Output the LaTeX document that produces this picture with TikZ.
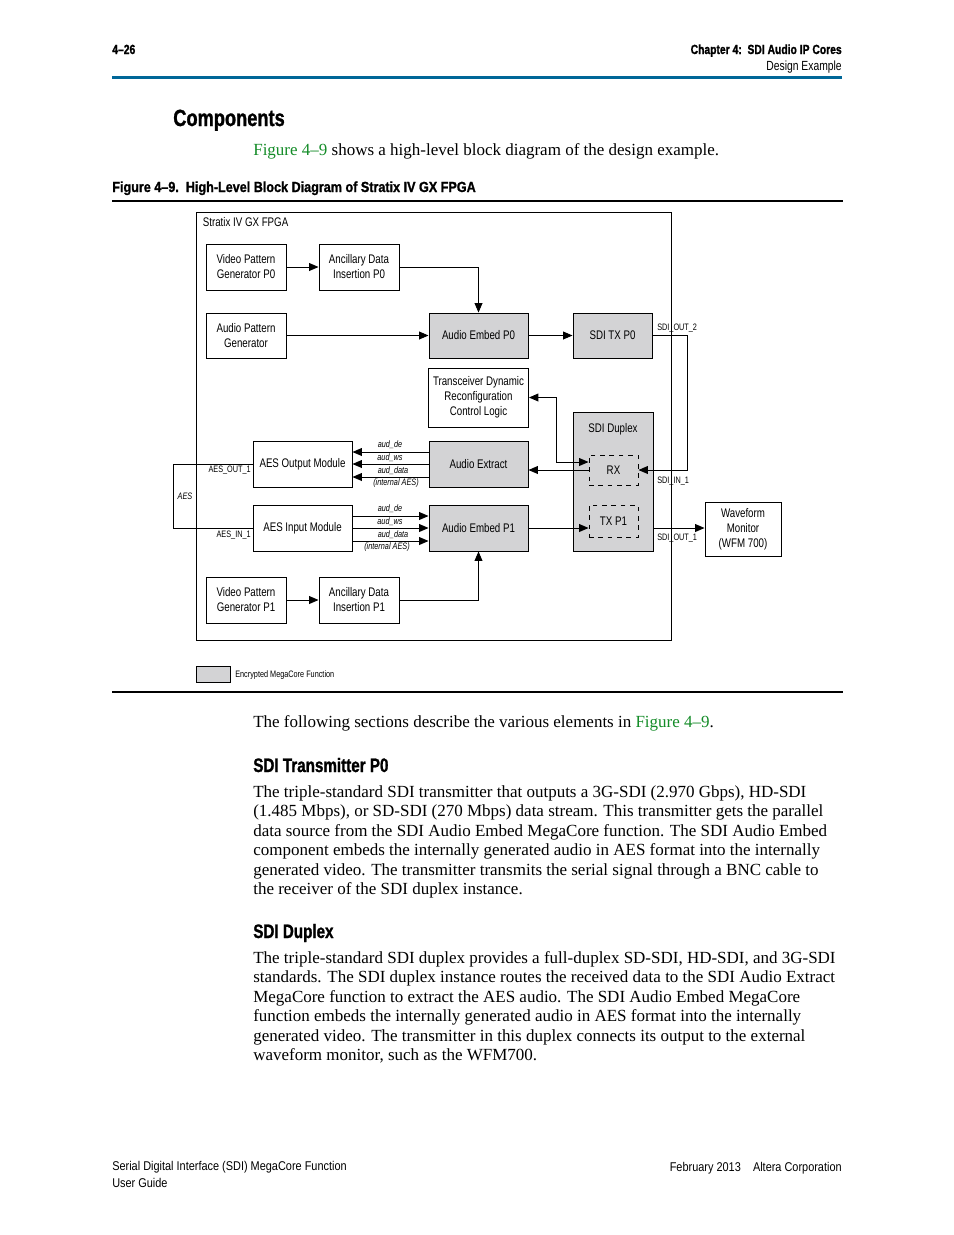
\documentclass[tikz,border=0pt]{standalone}
\usepackage{fontspec}
\setmainfont{Liberation Serif}
\newfontfamily\narrowsf[FakeStretch=0.78, BoldFeatures={FakeBold=1.2}]{Liberation Sans}
\newfontfamily\widesf[FakeStretch=0.86, BoldFeatures={FakeBold=1.2}]{Liberation Sans}
\usetikzlibrary{arrows.meta}
\usetikzlibrary{calc}
\usetikzlibrary{positioning}
\definecolor{linkgreen}{RGB}{20,140,40}
\definecolor{ruleblue}{RGB}{0,103,152}
\definecolor{coregray}{RGB}{211,211,213}
\newcommand{\px}{0.6415pt}
\newcommand{\bodyfont}{\rmfamily\fontsize{10.9}{12.5}\selectfont}
\newcommand{\headfont}{\narrowsf\bfseries\fontsize{8.5}{10}\selectfont}
\newcommand{\footfont}{\widesf\fontsize{8.15}{10.3}\selectfont}
\tikzstyle{blocknode} = [draw, rectangle, line width=0.6pt, align=center, inner sep=0pt, font=\narrowsf\fontsize{8}{9.6}\selectfont]
\tikzstyle{corenode} = [blocknode, fill=coregray]
\tikzstyle{dashnode} = [blocknode, dashed]
\tikzstyle{sigline} = [line width=0.6pt]
\tikzstyle{sigarrow} = [sigline, -{Triangle[length=6pt,width=5pt]}]
\tikzstyle{sigboth} = [sigline, {Triangle[length=6pt,width=5pt]}-{Triangle[length=6pt,width=5pt]}]
\tikzstyle{siglabel} = [inner sep=0pt, font=\narrowsf\fontsize{6}{7}\selectfont]
\tikzstyle{buslabel} = [siglabel, font=\narrowsf\itshape\fontsize{6}{7}\selectfont]
\tikzstyle{pagetext} = [inner sep=0pt, anchor=base west, align=left]

\begin{document}
\begin{tikzpicture}[x=\px, y=-\px]
\useasboundingbox[fill=white] (0,0) rectangle (954,1235);

% page header
\node[pagetext, font=\headfont] (page_num) at (112,54) {4–26};
\node[pagetext, anchor=base east, font=\headfont] (chapter) at (842,54) {Chapter 4:\ \ SDI Audio IP Cores};
\node[pagetext, anchor=base east, font=\narrowsf\fontsize{8.5}{10}\selectfont] (section) at (842,70) {Design Example};
\draw[ruleblue, line width=1.6pt] (page_num.base west |- 0,77.5) -- (chapter.base east |- 0,77.5);

\node[pagetext, font=\narrowsf\bfseries\fontsize{15}{18}\selectfont] (components) at (173,126) {Components};
\node[pagetext, font=\bodyfont] (intro) at (253,155) {\textcolor{linkgreen}{Figure 4–9} shows a high-level block diagram of the design example.};
\node[pagetext, font=\widesf\bfseries\fontsize{9.4}{11}\selectfont] (caption) at (112,192) {Figure 4–9.\ \ High-Level Block Diagram of Stratix IV GX FPGA};
\draw[line width=0.9pt] (112,201) -- (843,201);

% the FPGA and its blocks
\node[blocknode, minimum width=475*\px, minimum height=428*\px] (fpga) at (433.5,426) {};
\node[pagetext, font=\narrowsf\fontsize{8}{9.6}\selectfont] (fpga_title) at ($(fpga.north west)+(7,15)$) {Stratix IV GX FPGA};

\node[blocknode, minimum width=80*\px, minimum height=46*\px] (vpg_zero) at (246,267) {Video Pattern\\Generator P0};
\node[blocknode, minimum width=80*\px, minimum height=46*\px] (adi_zero) at ($(vpg_zero)+(113,0)$) {Ancillary Data\\Insertion P0};
\node[blocknode, minimum width=80*\px, minimum height=45*\px] (apg) at ($(vpg_zero)+(0,68.5)$) {Audio Pattern\\Generator};
\node[corenode, minimum width=99*\px, minimum height=45*\px] (ae_zero) at (478.5,335.5) {Audio Embed P0};
\node[corenode, minimum width=79*\px, minimum height=45*\px] (tx_zero) at ($(ae_zero)+(134,0)$) {SDI TX P0};
\node[blocknode, minimum width=100*\px, minimum height=59*\px] (tdrcl) at ($(ae_zero)+(0,62)$) {Transceiver Dynamic\\Reconfiguration\\Control Logic};

\node[corenode, minimum width=80*\px, minimum height=139*\px] (duplex) at (613,481.5) {};
\node[inner sep=0pt, font=\narrowsf\fontsize{8}{9.6}\selectfont] (duplex_title) at ($(duplex.north)+(0,18)$) {SDI Duplex};
\node[dashnode, minimum width=49*\px, minimum height=30*\px] (rx) at ($(duplex)+(0.5,-11.5)$) {RX};
\node[dashnode, minimum width=49*\px, minimum height=32*\px] (txp_one) at ($(duplex)+(0.5,39.5)$) {TX P1};

\node[corenode, minimum width=99*\px, minimum height=46*\px] (aex) at (478.5,464) {Audio Extract};
\node[blocknode, minimum width=99*\px, minimum height=46*\px] (aes_out) at ($(aex)+(-176,0)$) {AES Output Module};
\node[blocknode, minimum width=99*\px, minimum height=46*\px] (aes_in) at ($(aes_out)+(0,64)$) {AES Input Module};
\node[corenode, minimum width=99*\px, minimum height=46*\px] (ae_one) at ($(aex)+(0,64)$) {Audio Embed P1};

\node[blocknode, minimum width=80*\px, minimum height=46*\px] (vpg_one) at (246,600) {Video Pattern\\Generator P1};
\node[blocknode, minimum width=80*\px, minimum height=46*\px] (adi_one) at ($(vpg_one)+(113,0)$) {Ancillary Data\\Insertion P1};
\node[blocknode, minimum width=76*\px, minimum height=54*\px] (wfm) at (743,529) {Waveform\\Monitor\\(WFM 700)};

% connections, P0 side
\draw[sigarrow] (vpg_zero) -- (adi_zero);
\draw[sigarrow] (adi_zero.east) -| (ae_zero.north);
\draw[sigarrow] (apg) -- (ae_zero);
\draw[sigarrow] (ae_zero) -- (tx_zero);
\draw[sigarrow] (tx_zero.east) -- ++(35,0) |- (rx.east);
\draw[sigboth] (tdrcl.east) -- ++(27,0) |- ($(rx.west)+(0,-8)$);
\draw[sigarrow] (rx.west) -- (rx.west -| aex.east);

% AES buses
\draw[sigarrow] ($(aex.west)+(0,-12)$) -- ($(aes_out.east)+(0,-12)$);
\draw[sigarrow] (aex.west) -- (aes_out.east);
\draw[sigarrow] ($(aex.west)+(0,13)$) -- ($(aes_out.east)+(0,13)$);
\node[buslabel] (out_de) at (390,445) {aud\_de};
\node[buslabel] (out_ws) at (390,458) {aud\_ws};
\node[buslabel] (out_data) at (393,471) {aud\_data};
\node[buslabel] (out_int) at (396,483) {(internal AES)};

\draw[sigarrow] ($(aes_in.east)+(0,-12)$) -- ($(ae_one.west)+(0,-12)$);
\draw[sigarrow] (aes_in.east) -- (ae_one.west);
\draw[sigarrow] ($(aes_in.east)+(0,13)$) -- ($(ae_one.west)+(0,13)$);
\node[buslabel] (in_de) at (390,509) {aud\_de};
\node[buslabel] (in_ws) at (390,522) {aud\_ws};
\node[buslabel] (in_data) at (393,535) {aud\_data};
\node[buslabel] (in_int) at (387,547) {(internal AES)};

\draw[sigline] (aes_out.west) -- ++(-79,0) |- (aes_in.west);
\node[siglabel, anchor=east] (lbl_aes_out) at (251,470) {AES\_OUT\_1};
\node[siglabel, anchor=east] (lbl_aes_in) at (251,535) {AES\_IN\_1};
\node[buslabel] (lbl_aes) at (185,496) {AES};

% connections, P1 side
\draw[sigarrow] (ae_one.east) -- (ae_one.east -| txp_one.west);
\draw[sigarrow] (ae_one.east -| duplex.east) -- (ae_one.east -| wfm.west);
\draw[sigarrow] (vpg_one) -- (adi_one);
\draw[sigarrow] (adi_one.east) -| (ae_one.south);

\node[siglabel, anchor=west] (lbl_out_two) at (657,328) {SDI\_OUT\_2};
\node[siglabel, anchor=west] (lbl_in_one) at (657,481) {SDI\_IN\_1};
\node[siglabel, anchor=west] (lbl_out_one) at (657,538) {SDI\_OUT\_1};

% legend
\node[corenode, minimum width=34*\px, minimum height=16*\px] (legend_box) at (213,674) {};
\node[siglabel, anchor=west, font=\narrowsf\fontsize{6}{7}\selectfont] (legend_text) at (235,675) {Encrypted MegaCore Function};
\draw[line width=0.9pt] (112,692) -- (843,692);

% text below the figure
\node[pagetext, font=\bodyfont] (following) at (253,727) {The following sections describe the various elements in \textcolor{linkgreen}{Figure 4–9}.};
\node[pagetext, font=\narrowsf\bfseries\fontsize{12.5}{15}\selectfont] (tx_head) at (253,772) {SDI Transmitter P0};
\node[pagetext, font=\bodyfont] (tx_text) at (253,894.5) {The triple-standard SDI transmitter that outputs a 3G-SDI (2.970 Gbps), HD-SDI\\
(1.485 Mbps), or SD-SDI (270 Mbps) data stream. This transmitter gets the parallel\\
data source from the SDI Audio Embed MegaCore function. The SDI Audio Embed\\
component embeds the internally generated audio in AES format into the internally\\
generated video. The transmitter transmits the serial signal through a BNC cable to\\
the receiver of the SDI duplex instance.};
\node[pagetext, font=\narrowsf\bfseries\fontsize{12.5}{15}\selectfont] (duplex_head) at (253,938) {SDI Duplex};
\node[pagetext, font=\bodyfont] (duplex_text) at (253,1060.5) {The triple-standard SDI duplex provides a full-duplex SD-SDI, HD-SDI, and 3G-SDI\\
standards. The SDI duplex instance routes the received data to the SDI Audio Extract\\
MegaCore function to extract the AES audio. The SDI Audio Embed MegaCore\\
function embeds the internally generated audio in AES format into the internally\\
generated video. The transmitter in this duplex connects its output to the external\\
waveform monitor, such as the WFM700.};

% page footer
\node[pagetext, font=\footfont] (footer_left) at (112,1187) {Serial Digital Interface (SDI) MegaCore Function\\User Guide};
\node[pagetext, anchor=base east, font=\footfont] (footer_right) at (842,1171) {February 2013\ \ \ \ Altera Corporation};
\end{tikzpicture}
\end{document}
